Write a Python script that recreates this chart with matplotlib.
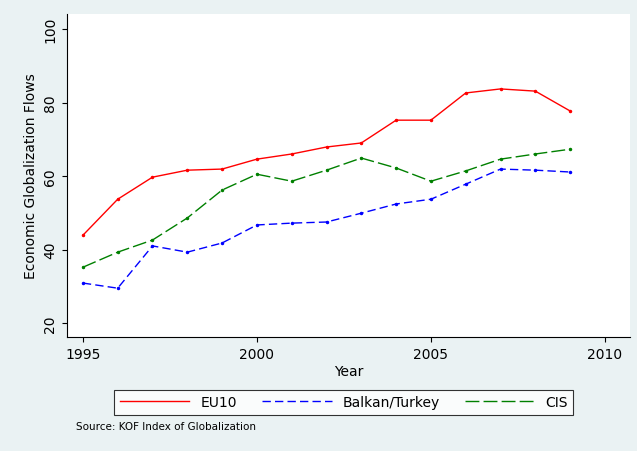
import matplotlib.pyplot as plt
from matplotlib.lines import Line2D

years = list(range(1995, 2010))
eu10 = [43.9, 53.7, 59.7, 61.6, 61.9, 64.6, 66.0, 67.9, 69.0, 75.2, 75.2, 82.6, 83.7, 83.1, 77.7]
balkan = [30.9, 29.5, 41.0, 39.3, 41.8, 46.7, 47.2, 47.5, 49.9, 52.4, 53.7, 57.8, 61.9, 61.6, 61.1]
cis = [35.2, 39.3, 42.6, 48.6, 56.2, 60.5, 58.6, 61.6, 64.9, 62.2, 58.6, 61.4, 64.6, 66.0, 67.3]

bg = '#eaf2f3'
fig = plt.figure(figsize=(6.37, 4.52), dpi=100, facecolor=bg)
ax = fig.add_axes([0.105, 0.252, 0.884, 0.715])

styles = [('EU10', eu10, 'red', '-'),
          ('Balkan/Turkey', balkan, 'blue', (0, (6, 3))),
          ('CIS', cis, 'green', (0, (10, 3)))]
handles = []
for name, vals, c, ls in styles:
    ax.plot(years, vals, color=c, lw=1, ls=ls, marker='.', ms=3)
    handles.append(Line2D([], [], color=c, lw=1, ls=ls, label=name))

ax.set_xlim(1994.54, 2010.72)
ax.set_ylim(16.2, 104.1)
ax.set_xticks([1995, 2000, 2005, 2010])
ax.set_yticks([20, 40, 60, 80, 100])
ax.set_yticklabels(['20', '40', '60', '80', '100'], rotation=90, va='center')
ax.tick_params(labelsize=10)
ax.set_xlabel('Year', fontsize=10, labelpad=2)
ax.set_ylabel('Economic Globalization Flows', fontsize=10)
for s in ['top', 'right']:
    ax.spines[s].set_visible(False)

leg = fig.legend(handles=handles, loc='center', bbox_to_anchor=(0.54, 0.108), ncol=3, fontsize=10,
                 frameon=True, fancybox=False, edgecolor='black', handlelength=5,
                 columnspacing=1.8)
leg.get_frame().set_linewidth(0.8)
fig.text(0.12, 0.048, 'Source: KOF Index of Globalization', fontsize=7.5)

fig.savefig('out.png', facecolor=bg)
